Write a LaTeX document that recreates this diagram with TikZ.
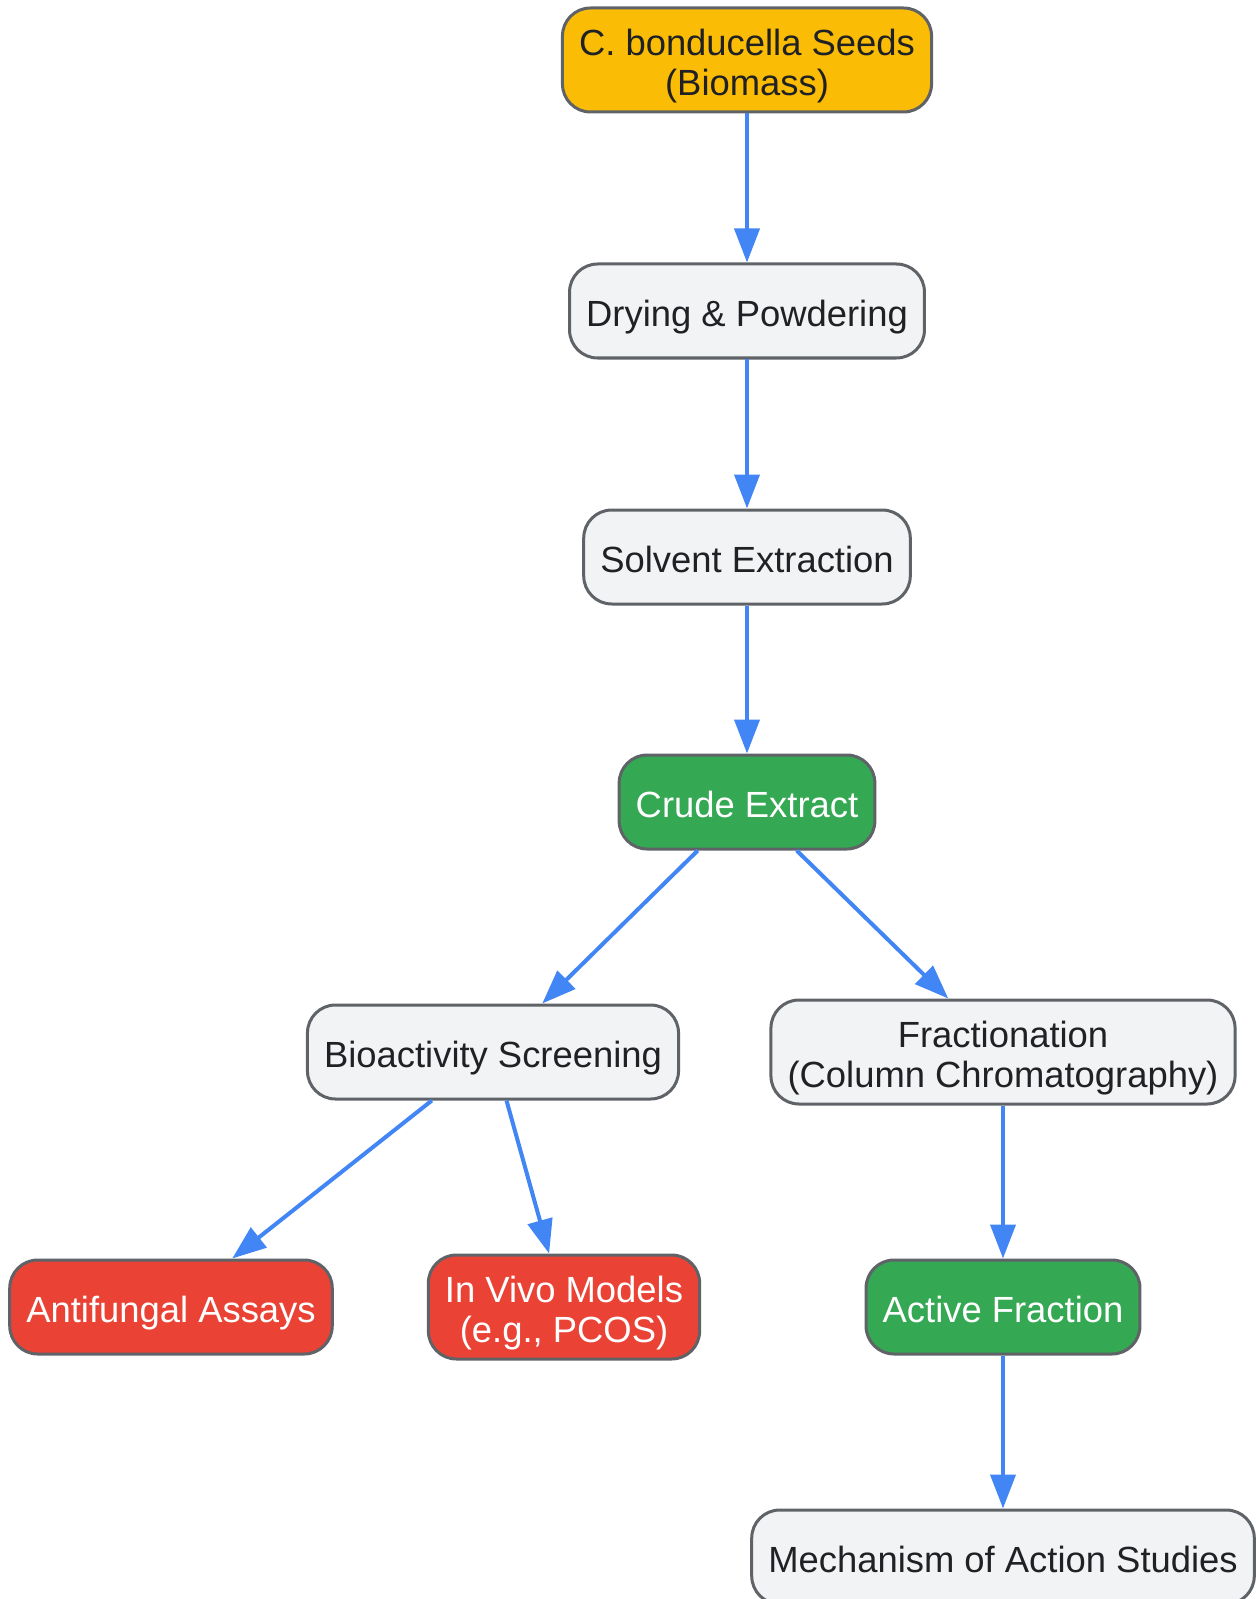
\documentclass[tikz,border=0pt]{standalone}
\usepackage{fontspec}
\setmainfont{Liberation Sans}
\usepackage{xcolor}
\usepackage{tikz}
\usetikzlibrary{arrows.meta}

\definecolor{boxgray}{HTML}{F1F3F4}
\definecolor{boxedge}{HTML}{5F6368}
\definecolor{seedorange}{HTML}{FBBC05}
\definecolor{extgreen}{HTML}{34A853}
\definecolor{assayred}{HTML}{EA4335}
\definecolor{flowblue}{HTML}{4285F4}
\definecolor{txtdark}{HTML}{202124}

\tikzset{
  stage/.style={draw=boxedge, line width=1.5pt, rounded corners=14pt, fill=boxgray,
    text=txtdark, align=center, inner xsep=8.3pt, inner ysep=2pt, minimum height=47pt,
    text height=15.5pt, text depth=0pt,
    font=\fontsize{18.2pt}{20.4pt}\selectfont},
  twoline/.style={minimum height=52pt, text height=35.9pt, text depth=0pt},
  flow/.style={draw=flowblue, line width=2pt, -{Triangle[length=17pt,width=12.5pt]}}
}

\begin{document}
\begin{tikzpicture}[x=0.5pt, y=-0.5pt]
  \useasboundingbox (0,0) rectangle (1255,1599);

  % Main line
  \node[stage, twoline, fill=seedorange] (seeds) at (747,60) {C. bonducella Seeds\\(Biomass)};
  \node[stage] (drying) at (747,311) {Drying \& Powdering};
  \node[stage] (solvent) at (747,557) {Solvent Extraction};
  \node[stage, fill=extgreen, text=white] (crude) at (747,802) {Crude Extract};

  % Left branch
  \node[stage] (screen) at (493,1052) {Bioactivity Screening};
  \node[stage, fill=assayred, text=white] (antifungal) at (171,1307) {Antifungal Assays};
  \node[stage, twoline, fill=assayred, text=white] (invivo) at (564,1307) {In Vivo Models\\(e.g., PCOS)};

  % Right branch
  \node[stage, twoline] (fraction) at (1003,1052) {Fractionation\\(Column Chromatography)};
  \node[stage, fill=extgreen, text=white] (active) at (1003,1307) {Active Fraction};
  \node[stage] (mechanism) at (1003,1557) {Mechanism of Action Studies};

  % Arrows
  \draw[flow] (seeds) -- (drying);
  \draw[flow] (drying) -- (solvent);
  \draw[flow] (solvent) -- (crude);
  \draw[flow] (crude) -- (screen);
  \draw[flow] (crude) -- (fraction);
  \draw[flow] (screen) -- (antifungal);
  \draw[flow] (screen) -- (invivo);
  \draw[flow] (fraction) -- (active);
  \draw[flow] (active) -- (mechanism);

\end{tikzpicture}
\end{document}
